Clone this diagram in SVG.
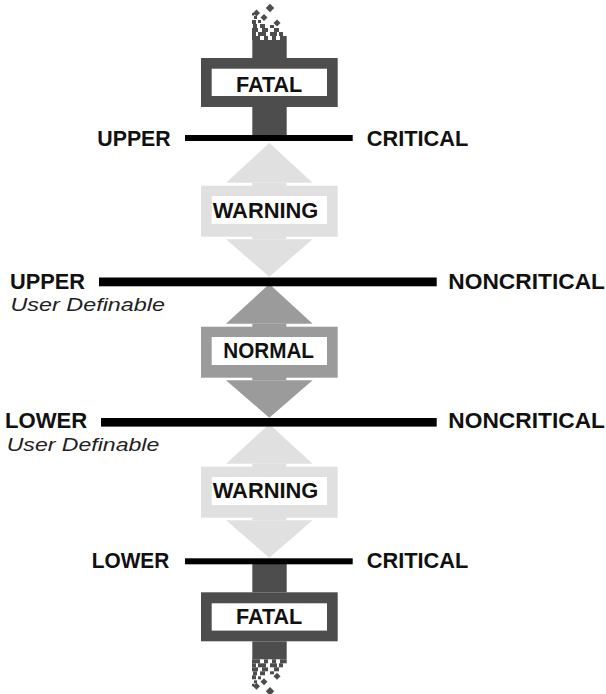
<svg xmlns="http://www.w3.org/2000/svg" xmlns:xlink="http://www.w3.org/1999/xlink" width="606" height="694" viewBox="0 0 606 694">
  <style>
    .lbl { font-family: "Liberation Sans", Arial, sans-serif; font-weight: bold; font-size: 21.5px; fill: #111; }
    .sub { font-family: "Liberation Sans", Arial, sans-serif; font-style: italic; font-size: 19px; fill: #222; }
    .box { font-family: "Liberation Sans", Arial, sans-serif; font-weight: bold; font-size: 22px; fill: #111; }
    .line { fill: #000; }
    .fatal { fill: #4d4d4d; }
  </style>
  <defs>
    <g id="dbl">
      <path d="M0,0 L43.3,39.7 L-43.3,39.7 Z"/>
      <rect x="-17" y="39.7" width="34" height="56.6"/>
      <rect x="-68.3" y="42.7" width="136.7" height="51"/>
      <path d="M-43.3,96.3 L43.3,96.3 L0,133.7 Z"/>
      <rect x="-57.6" y="53" width="115.3" height="28" fill="#fff"/>
    </g>
    <g id="fatalShape" class="fatal">
      <rect x="252.3" y="40" width="34.4" height="18"/>
      <rect x="201" y="58" width="136.7" height="49"/>
      <rect x="211.7" y="68.7" width="115.3" height="27.3" fill="#fff"/>
      <rect x="252.3" y="107" width="34.4" height="29"/>
      <rect x="252" y="36" width="8" height="4"/>
      <rect x="264" y="36" width="4" height="4"/>
      <rect x="272" y="36" width="4" height="4"/>
      <rect x="280" y="36" width="6.7" height="4"/>
      <rect x="252" y="32" width="4" height="4"/>
      <rect x="258" y="32" width="8" height="4"/>
      <rect x="270" y="32" width="7" height="4"/>
      <rect x="279" y="32" width="4" height="4"/>
      <rect x="252" y="28" width="6" height="4"/>
      <rect x="262" y="28" width="6" height="4"/>
      <rect x="274" y="28" width="5" height="4"/>
      <rect x="253" y="24" width="4" height="4"/>
      <rect x="260" y="24" width="5" height="4"/>
      <rect x="270" y="25" width="4" height="3"/>
      <rect x="252" y="20" width="4" height="4"/>
      <rect x="258" y="20" width="3" height="3"/>
      <rect x="254" y="16" width="3" height="3"/>
      <rect x="252" y="13" width="2.5" height="2.5"/>
      <rect x="267" y="5" width="6" height="6" transform="rotate(45 270 8)"/>
      <rect x="254" y="10.5" width="5" height="5" transform="rotate(45 256.5 13)"/>
      <rect x="261.5" y="15" width="5" height="5" transform="rotate(45 264 17.5)"/>
      <rect x="274.5" y="20.5" width="5" height="5" transform="rotate(45 277 23)"/>
    </g>
  </defs>

  <g id="fatal-upper">
    <use xlink:href="#fatalShape"/>
    <text class="box" x="236" y="91.7" textLength="66.3" lengthAdjust="spacingAndGlyphs">FATAL</text>
  </g>

  <g id="warning-upper">
    <use xlink:href="#dbl" x="269.3" y="143" fill="#e0e0e0"/>
    <text class="box" x="212.7" y="217.7" textLength="105.6" lengthAdjust="spacingAndGlyphs">WARNING</text>
  </g>

  <g id="normal">
    <use xlink:href="#dbl" x="269.3" y="284" fill="#9b9b9b"/>
    <text class="box" x="223.3" y="357.7" textLength="90.7" lengthAdjust="spacingAndGlyphs">NORMAL</text>
  </g>

  <g id="warning-lower">
    <use xlink:href="#dbl" x="269.3" y="424" fill="#e0e0e0"/>
    <text class="box" x="212.7" y="497.7" textLength="105.6" lengthAdjust="spacingAndGlyphs">WARNING</text>
  </g>

  <g id="fatal-lower">
    <use xlink:href="#fatalShape" transform="matrix(1 0 0 -1 0 699.3)"/>
    <text class="box" x="236" y="623.8" textLength="66.3" lengthAdjust="spacingAndGlyphs">FATAL</text>
  </g>

  <g id="connectors">
    <rect class="line" x="185" y="135" width="167.7" height="6"/>
    <rect class="line" x="99" y="277.5" width="337.7" height="8.8"/>
    <rect class="line" x="101" y="418" width="335.7" height="8.6"/>
    <rect class="line" x="185" y="558.3" width="167.7" height="6"/>
  </g>

  <g id="labels">
    <text class="lbl" x="97.3" y="146" textLength="73.4" lengthAdjust="spacingAndGlyphs">UPPER</text>
    <text class="lbl" x="366.7" y="146" textLength="101.6" lengthAdjust="spacingAndGlyphs">CRITICAL</text>
    <text class="lbl" x="10" y="289" textLength="75" lengthAdjust="spacingAndGlyphs">UPPER</text>
    <text class="lbl" x="448.3" y="289" textLength="156.7" lengthAdjust="spacingAndGlyphs">NONCRITICAL</text>
    <text class="sub" x="10.5" y="311" textLength="154.5" lengthAdjust="spacingAndGlyphs">User Definable</text>
    <text class="lbl" x="5" y="427.7" textLength="82.3" lengthAdjust="spacingAndGlyphs">LOWER</text>
    <text class="lbl" x="448.3" y="427.7" textLength="156.7" lengthAdjust="spacingAndGlyphs">NONCRITICAL</text>
    <text class="sub" x="6.7" y="450.5" textLength="152.6" lengthAdjust="spacingAndGlyphs">User Definable</text>
    <text class="lbl" x="91.7" y="568.3" textLength="77.6" lengthAdjust="spacingAndGlyphs">LOWER</text>
    <text class="lbl" x="366.7" y="568.3" textLength="101.6" lengthAdjust="spacingAndGlyphs">CRITICAL</text>
  </g>
</svg>
